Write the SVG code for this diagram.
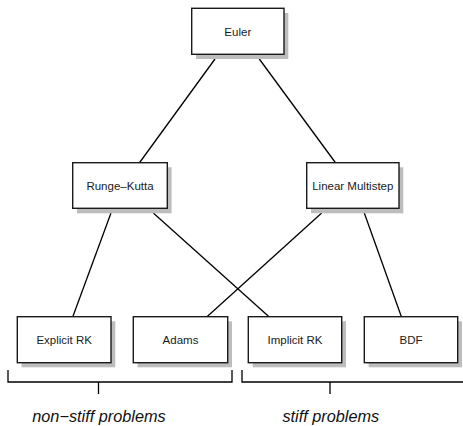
<svg xmlns="http://www.w3.org/2000/svg" width="463" height="426" viewBox="0 0 463 426">
<style>
.shadow{fill:#bdbdbd;stroke:none}
.box{fill:#fff;stroke:#1a1a1a;stroke-width:1.4}
.lbl{font-family:"Liberation Sans",Arial,sans-serif;font-size:11.5px;fill:#1a1a1a;text-anchor:middle}
.edge{stroke:#000;stroke-width:1.3;fill:none}
.cap{font-family:"Liberation Sans",Arial,sans-serif;font-size:16.3px;font-style:italic;fill:#111;text-anchor:middle}
</style>
<rect width="463" height="426" fill="#fff"/>
<g id="connectors">
<line class="edge" x1="215" y1="59" x2="139.3" y2="163"/>
<line class="edge" x1="259.3" y1="59" x2="335.7" y2="163"/>
<line class="edge" x1="111" y1="213" x2="72.7" y2="317"/>
<line class="edge" x1="153.3" y1="213" x2="269.3" y2="317"/>
<line class="edge" x1="321.7" y1="213" x2="206.7" y2="317"/>
<line class="edge" x1="364.3" y1="213" x2="401.5" y2="317"/>
</g>
<g id="euler">
<rect class="shadow" x="196" y="13" width="92.3" height="46"/>
<rect class="box" x="191.7" y="8.3" width="92.3" height="46"/>
<text class="lbl" x="237.8" y="35.5">Euler</text>
</g>
<g id="runge-kutta">
<rect class="shadow" x="77" y="167.3" width="94.6" height="46"/>
<rect class="box" x="72.7" y="162.7" width="94.6" height="45.6"/>
<text class="lbl" x="120" y="189.5">Runge–Kutta</text>
</g>
<g id="linear-multistep">
<rect class="shadow" x="311" y="167.3" width="92.3" height="46"/>
<rect class="box" x="306.7" y="162.7" width="92.3" height="45.6"/>
<text class="lbl" x="352.8" y="189.5">Linear Multistep</text>
</g>
<g id="explicit-rk">
<rect class="shadow" x="21.6" y="321.3" width="93.7" height="46"/>
<rect class="box" x="17.3" y="316.7" width="93.7" height="46"/>
<text class="lbl" x="64.2" y="343.7">Explicit RK</text>
</g>
<g id="adams">
<rect class="shadow" x="137.6" y="321.3" width="94.4" height="46"/>
<rect class="box" x="133.3" y="316.7" width="94.4" height="46"/>
<text class="lbl" x="180.5" y="343.7">Adams</text>
</g>
<g id="implicit-rk">
<rect class="shadow" x="252.6" y="321.3" width="93.4" height="46"/>
<rect class="box" x="248.3" y="316.7" width="93.4" height="46"/>
<text class="lbl" x="295" y="343.7">Implicit RK</text>
</g>
<g id="bdf">
<rect class="shadow" x="368.6" y="321.3" width="93.4" height="46"/>
<rect class="box" x="364.3" y="316.7" width="93.4" height="46"/>
<text class="lbl" x="411" y="343.7">BDF</text>
</g>
<g id="non-stiff">
<path class="edge" d="M8 370 V382 H232 V370 M98.5 382 V394"/>
<text class="cap" x="99" y="421.5">non−stiff problems</text>
</g>
<g id="stiff">
<path class="edge" d="M242 370 V382 H463 M330 382 V394"/>
<text class="cap" x="330.8" y="421.5">stiff problems</text>
</g>
</svg>
